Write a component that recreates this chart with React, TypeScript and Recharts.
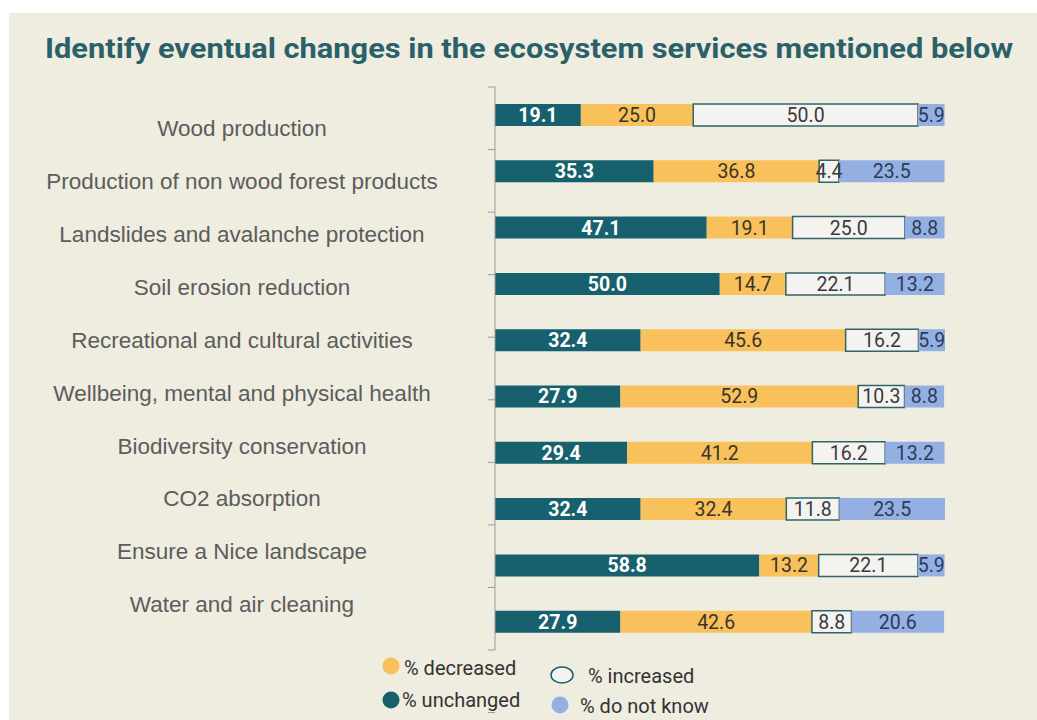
import React from 'react';
import { BarChart, Bar, XAxis, YAxis, LabelList } from 'recharts';

// categories top to bottom
const categories = [
  'Wood production',
  'Production of non wood forest products',
  'Landslides and avalanche protection',
  'Soil erosion reduction',
  'Recreational and cultural activities',
  'Wellbeing, mental and physical health',
  'Biodiversity conservation',
  'CO2 absorption',
  'Ensure a Nice landscape',
  'Water and air cleaning',
];

const unchanged = [19.1, 35.3, 47.1, 50.0, 32.4, 27.9, 29.4, 32.4, 58.8, 27.9];
const decreased = [25.0, 36.8, 19.1, 14.7, 45.6, 52.9, 41.2, 32.4, 13.2, 42.6];
const increased = [50.0, 4.4, 25.0, 22.1, 16.2, 10.3, 16.2, 11.8, 22.1, 8.8];
const doNotKnow = [5.9, 23.5, 8.8, 13.2, 5.9, 8.8, 13.2, 23.5, 5.9, 20.6];

// boundaries between categories (tick marks on the axis)
const frameTicks = [0, 1, 2, 3, 4, 5, 6, 7, 8, 9, 10];

const title = 'Identify eventual changes in the ecosystem services mentioned below';

const data = categories.map((name, i) => ({
  name,
  unchanged: unchanged[i],
  decreased: decreased[i],
  increased: increased[i],
  doNotKnow: doNotKnow[i],
}));

const TEAL = '#16616d';
const YELLOW = '#f9c15c';
const WHITE_FILL = '#f4f3ef';
const BLUE = '#94b0e2';
const BG = '#efece0';

const fmt = (v: any) => Number(v).toFixed(1);

// labels sit on a slightly tighter rhythm than the bars
const CategoryTick = (props: any) => {
  const { y, payload } = props;
  const ly = 367 + (y - 369.5) * 0.94;
  return (
    <text
      x={242}
      y={ly}
      dy="0.36em"
      textAnchor="middle"
      fontFamily="'Liberation Sans', Arial, sans-serif"
      fontSize={22.5}
      fill="#5c5c5c"
    >
      {payload.value}
    </text>
  );
};

const legendItems = [
  { label: '% decreased', color: YELLOW, x: 391, y: 666, tx: 404, ty: 675, kind: 'dot' },
  { label: '% increased', color: TEAL, x: 562, y: 675, tx: 588, ty: 683, kind: 'ring' },
  { label: '% unchanged', color: TEAL, x: 391, y: 700, tx: 402, ty: 707, kind: 'dot' },
  { label: '% do not know', color: BLUE, x: 560, y: 705, tx: 580, ty: 713, kind: 'dot' },
];

export default function App() {
  return (
    <div style={{ position: 'absolute', left: 0, top: 0, width: 1037, height: 720, background: '#fff', overflow: 'hidden' }}>
      <div style={{ position: 'absolute', left: 9, top: 13, width: 1028, height: 707, background: BG }} />
      <svg width={1037} height={720} style={{ position: 'absolute', left: 0, top: 0 }}>
        <text
          x={45}
          y={58}
          textLength={968}
          lengthAdjust="spacingAndGlyphs"
          fontFamily="Roboto, sans-serif"
          fontWeight={700}
          fontSize={27.5}
          fill="#2a6168"
        >
          {title}
        </text>
        {legendItems.map((it) => (
          <g key={it.label}>
            {it.kind === 'ring' ? (
              <ellipse cx={it.x} cy={it.y} rx={11} ry={8} fill={WHITE_FILL} stroke={it.color} strokeWidth={1.5} />
            ) : (
              <circle cx={it.x} cy={it.y} r={8.5} fill={it.color} />
            )}
            <text x={it.tx} y={it.ty} fontFamily="Roboto, sans-serif" fontSize={20} fill="#333">
              {it.label}
            </text>
          </g>
        ))}
      </svg>
      <div style={{ position: 'absolute', left: 0, top: 0 }}>
        <BarChart
          width={1037}
          height={720}
          data={data}
          layout="vertical"
          margin={{ top: 87, right: 92, bottom: 70, left: 0 }}
          barSize={22}
        >
          <XAxis type="number" domain={[0, 100]} hide />
          <YAxis
            yAxisId="axis"
            type="number"
            domain={[0, 10]}
            ticks={frameTicks}
            width={8}
            tickFormatter={() => ''}
            tickSize={7}
            axisLine={{ stroke: '#9a9a9a' }}
            tickLine={{ stroke: '#9a9a9a' }}
          />
          <YAxis
            yAxisId="cat"
            type="category"
            dataKey="name"
            width={487}
            tickLine={false}
            axisLine={false}
            tick={<CategoryTick />}
            interval={0}
          />
          <Bar yAxisId="cat" dataKey="unchanged" stackId="a" fill={TEAL} isAnimationActive={false}>
            <LabelList
              dataKey="unchanged"
              position="center"
              formatter={fmt}
              fill="#ffffff"
              fontFamily="Roboto, sans-serif"
              fontWeight={700}
              fontSize={19.5}
            />
          </Bar>
          <Bar yAxisId="cat" dataKey="decreased" stackId="a" fill={YELLOW} isAnimationActive={false}>
            <LabelList
              dataKey="decreased"
              position="center"
              formatter={fmt}
              fill="#3a3428"
              fontFamily="Roboto, sans-serif"
              fontSize={19.5}
            />
          </Bar>
          <Bar
            yAxisId="cat"
            dataKey="increased"
            stackId="a"
            fill={WHITE_FILL}
            stroke="#2f6469"
            strokeWidth={1.5}
            isAnimationActive={false}
          >
            <LabelList
              dataKey="increased"
              position="center"
              formatter={fmt}
              fill="#3a3a3a"
              stroke="none"
              fontFamily="Roboto, sans-serif"
              fontSize={19.5}
            />
          </Bar>
          <Bar yAxisId="cat" dataKey="doNotKnow" stackId="a" fill={BLUE} isAnimationActive={false}>
            <LabelList
              dataKey="doNotKnow"
              position="center"
              formatter={fmt}
              fill="#2c3a58"
              fontFamily="Roboto, sans-serif"
              fontSize={19.5}
            />
          </Bar>
        </BarChart>
      </div>
    </div>
  );
}
